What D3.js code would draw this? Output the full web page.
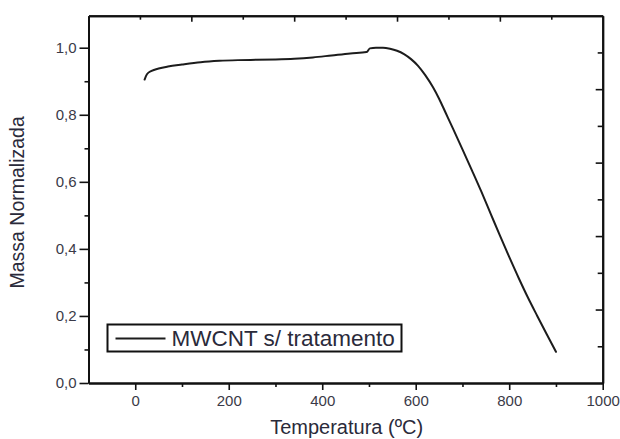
<!DOCTYPE html>
<html>
<head>
<meta charset="utf-8">
<script src="https://cdn.jsdelivr.net/npm/d3@7"></script>
<style>
  html, body { margin: 0; padding: 0; background: #fff; }
  svg { display: block; font-family: Arial, "Liberation Sans", sans-serif; }
  .tick text { fill: #3a3a48; }
</style>
</head>
<body>
<svg id="chart" width="620" height="439"></svg>
<script>
// TGA curve: normalized mass vs temperature
const temperature = [20, 25, 35, 50, 70, 100, 140, 180, 220, 260, 300, 340, 380, 420, 460, 495,
  502, 515, 530, 545, 560, 575, 590, 605, 620, 637, 650, 664, 680, 700, 720, 740, 760, 780, 800, 820, 840, 860, 880, 900];
const mass = [0.905, 0.921, 0.931, 0.938, 0.944, 0.950, 0.957, 0.961, 0.963, 0.964, 0.965, 0.967, 0.971, 0.977, 0.983, 0.987,
  0.998, 1.000, 1.000, 0.997, 0.991, 0.981, 0.966, 0.946, 0.919, 0.882, 0.848, 0.806, 0.758, 0.697, 0.635, 0.572, 0.506, 0.440, 0.376, 0.314, 0.255, 0.200, 0.146, 0.093];
const seriesName = "MWCNT s/ tratamento";

const xMajorTicks = [0, 200, 400, 600, 800, 1000];
const xMinorTicks = [100, 300, 500, 700, 900];
const yMajorTicks = [0, 0.2, 0.4, 0.6, 0.8, 1.0];
const yMinorTicks = [0.1, 0.3, 0.5, 0.7, 0.9];
const frameMajorTicks = [0.2, 0.4, 0.6, 0.8];
const frameMinorTicks = [0.1, 0.3, 0.5, 0.7, 0.9];
const xTitle = "Temperatura (ºC)";
const yTitle = "Massa Normalizada";

const fmt = d3.format(".1f");
const commaFmt = d => fmt(d).replace(".", ",");

const svg = d3.select("#chart");
const plotLeft = 88.5, plotRight = 602.7, plotTop = 15.7, plotBottom = 383;

const x = d3.scaleLinear().domain([-100, 1000]).range([plotLeft, plotRight]);
const y = d3.scaleLinear().domain([0, 1.0955]).range([plotBottom, plotTop]);
// top and right frame axes run over [0, 1] of the full frame
const xt = d3.scaleLinear().domain([0, 1]).range([plotLeft, plotRight]);
const yr = d3.scaleLinear().domain([0, 1]).range([plotBottom, plotTop]);

const axisStyle = g => {
  g.selectAll("path.domain").attr("stroke", "#111").attr("stroke-width", 2);
  g.selectAll(".tick line").attr("stroke", "#111").attr("stroke-width", 1.6);
};

// bottom axis
svg.append("g").attr("transform", `translate(0,${plotBottom})`)
  .call(d3.axisBottom(x).tickValues(xMinorTicks).tickSize(4).tickSizeOuter(0).tickFormat(""))
  .call(axisStyle);
svg.append("g").attr("transform", `translate(0,${plotBottom})`)
  .call(d3.axisBottom(x).tickValues(xMajorTicks).tickSize(7).tickPadding(5).tickSizeOuter(0).tickFormat(d3.format("d")))
  .call(axisStyle)
  .call(g => g.selectAll("text").attr("font-size", 15));

// left axis
svg.append("g").attr("transform", `translate(${plotLeft},0)`)
  .call(d3.axisLeft(y).tickValues(yMinorTicks).tickSize(4).tickSizeOuter(0).tickFormat(""))
  .call(axisStyle);
svg.append("g").attr("transform", `translate(${plotLeft},0)`)
  .call(d3.axisLeft(y).tickValues(yMajorTicks).tickSize(9).tickPadding(3).tickSizeOuter(0).tickFormat(commaFmt))
  .call(axisStyle)
  .call(g => g.selectAll("text").attr("font-size", 15));

// top axis (inward ticks)
svg.append("g").attr("transform", `translate(0,${plotTop})`)
  .call(d3.axisBottom(xt).tickValues(frameMinorTicks).tickSize(4).tickSizeOuter(0).tickFormat(""))
  .call(axisStyle);
svg.append("g").attr("transform", `translate(0,${plotTop})`)
  .call(d3.axisBottom(xt).tickValues(frameMajorTicks).tickSize(6).tickSizeOuter(0).tickFormat(""))
  .call(axisStyle);

// right axis (inward ticks)
svg.append("g").attr("transform", `translate(${plotRight},0)`)
  .call(d3.axisLeft(yr).tickValues(frameMinorTicks).tickSize(5).tickSizeOuter(0).tickFormat(""))
  .call(axisStyle);
svg.append("g").attr("transform", `translate(${plotRight},0)`)
  .call(d3.axisLeft(yr).tickValues(frameMajorTicks).tickSize(7).tickSizeOuter(0).tickFormat(""))
  .call(axisStyle);

// mass loss curve
const data = temperature.map((t, i) => ({ t, m: mass[i] }));
svg.append("path")
  .datum(data)
  .attr("fill", "none")
  .attr("stroke", "#1c1c1c")
  .attr("stroke-width", 2)
  .attr("stroke-linejoin", "round")
  .attr("stroke-linecap", "round")
  .attr("d", d3.line().x(d => x(d.t)).y(d => y(d.m)).curve(d3.curveMonotoneX));

// legend
const legend = svg.append("g").attr("transform", "translate(107.5,324.5)");
legend.append("rect")
  .attr("width", 294).attr("height", 27)
  .attr("fill", "#fff").attr("stroke", "#111").attr("stroke-width", 2);
legend.append("line")
  .attr("x1", 8).attr("x2", 58).attr("y1", 14).attr("y2", 14)
  .attr("stroke", "#1c1c1c").attr("stroke-width", 2);
legend.append("text")
  .attr("x", 64).attr("y", 21.5)
  .attr("font-size", 22.5)
  .attr("fill", "#2a2a3a")
  .text(seriesName);

// axis titles
svg.append("text")
  .attr("x", (plotLeft + plotRight) / 2 + 1).attr("y", 434)
  .attr("text-anchor", "middle")
  .attr("font-size", 20)
  .attr("fill", "#2a2a3a")
  .text(xTitle);

svg.append("text")
  .attr("transform", `translate(24,${(plotTop + plotBottom) / 2 + 3}) rotate(-90)`)
  .attr("text-anchor", "middle")
  .attr("font-size", 19.5)
  .attr("fill", "#2a2a3a")
  .text(yTitle);
</script>
</body>
</html>
